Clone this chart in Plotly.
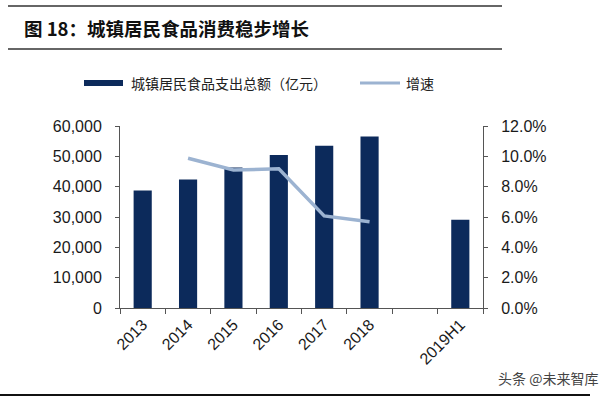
import plotly.graph_objects as go

categories = ["2013", "2014", "2015", "2016", "2017", "2018", " ", "2019H1"]
food_spending = [38700, 42400, 46300, 50400, 53500, 56500, None, 29100]
growth_rate = [None, 9.87, 9.1, 9.18, 6.07, 5.69, None, None]

bar_name = "城镇居民食品支出总额（亿元）"
line_name = "增速"
title_text = "图 18：城镇居民食品消费稳步增长"

BAR_COLOR = "#0c2a5b"
LINE_COLOR = "#9cb3d1"
AX_FONT = dict(family="Liberation Sans, Arial, sans-serif", size=16, color="#1a1a1a")
CJK = "Noto Sans CJK SC, sans-serif"

fig = go.Figure()
fig.add_trace(go.Bar(x=categories, y=food_spending, name=bar_name,
                     marker=dict(color=BAR_COLOR, line=dict(width=0)),
                     showlegend=False, yaxis="y"))
fig.add_trace(go.Scatter(x=categories, y=growth_rate, name=line_name, mode="lines",
                         line=dict(color=LINE_COLOR, width=3.5),
                         connectgaps=False, showlegend=False, yaxis="y2"))

fig.update_layout(
    width=615, height=397,
    margin=dict(l=120, r=132, t=126, b=89),
    paper_bgcolor="white", plot_bgcolor="white",
    bargap=0.6,
    xaxis=dict(type="category", categoryorder="array", categoryarray=categories,
               showline=True, linecolor="#555", linewidth=1,
               ticks="outside", tickson="boundaries", ticklen=5, tickcolor="#555",
               tickangle=-45, tickfont=AX_FONT, showgrid=False),
    yaxis=dict(range=[0, 60000], dtick=10000, tickformat=",d",
               showline=True, linecolor="#555", linewidth=1,
               ticks="outside", ticklen=4, tickcolor="#555",
               ticklabelstandoff=10,
               tickfont=AX_FONT, showgrid=False, zeroline=False),
    yaxis2=dict(range=[0, 12], dtick=2, overlaying="y", side="right",
                ticksuffix="%", tickformat=".1f",
                showline=True, linecolor="#555", linewidth=1,
                ticks="outside", ticklen=4, tickcolor="#555",
                ticklabelstandoff=10,
                tickfont=AX_FONT, showgrid=False, zeroline=False),
)

def px(x):
    return (x - 120) / 363

def py(y):
    return (308 - y) / 182

# frame lines of the report figure
for y, w in [(6, 1.5), (49, 1.5)]:
    fig.add_shape(type="line", xref="paper", yref="paper",
                  x0=px(8), x1=px(502), y0=py(y), y1=py(y),
                  line=dict(color="#333", width=w))
fig.add_shape(type="line", xref="paper", yref="paper",
              x0=px(0), x1=px(590), y0=py(395), y1=py(395),
              line=dict(color="#111", width=2))

# title
fig.add_annotation(text="<b>" + title_text + "</b>", xref="paper", yref="paper",
                   x=px(22), y=py(28), xanchor="left", yanchor="middle",
                   showarrow=False, font=dict(family=CJK, size=18.5, color="#111"))

# manual legend
fig.add_shape(type="rect", xref="paper", yref="paper",
              x0=px(84), x1=px(123), y0=py(86), y1=py(80),
              fillcolor=BAR_COLOR, line=dict(width=0))
fig.add_annotation(text=bar_name, xref="paper", yref="paper",
                   x=px(129), y=py(83), xanchor="left", yanchor="middle",
                   showarrow=False, font=dict(family=CJK, size=14, color="#222"))
fig.add_shape(type="line", xref="paper", yref="paper",
              x0=px(360), x1=px(400), y0=py(83), y1=py(83),
              line=dict(color=LINE_COLOR, width=3))
fig.add_annotation(text=line_name, xref="paper", yref="paper",
                   x=px(404), y=py(83), xanchor="left", yanchor="middle",
                   showarrow=False, font=dict(family=CJK, size=14, color="#222"))

# watermark
fig.add_annotation(text="头条 @未来智库", xref="paper", yref="paper",
                   x=px(600), y=py(378), xanchor="right", yanchor="middle",
                   showarrow=False, font=dict(family=CJK, size=14, color="#444"))

fig.write_html("out.html", config={"displayModeBar": False},
               post_script="document.body.style.margin='0';")
